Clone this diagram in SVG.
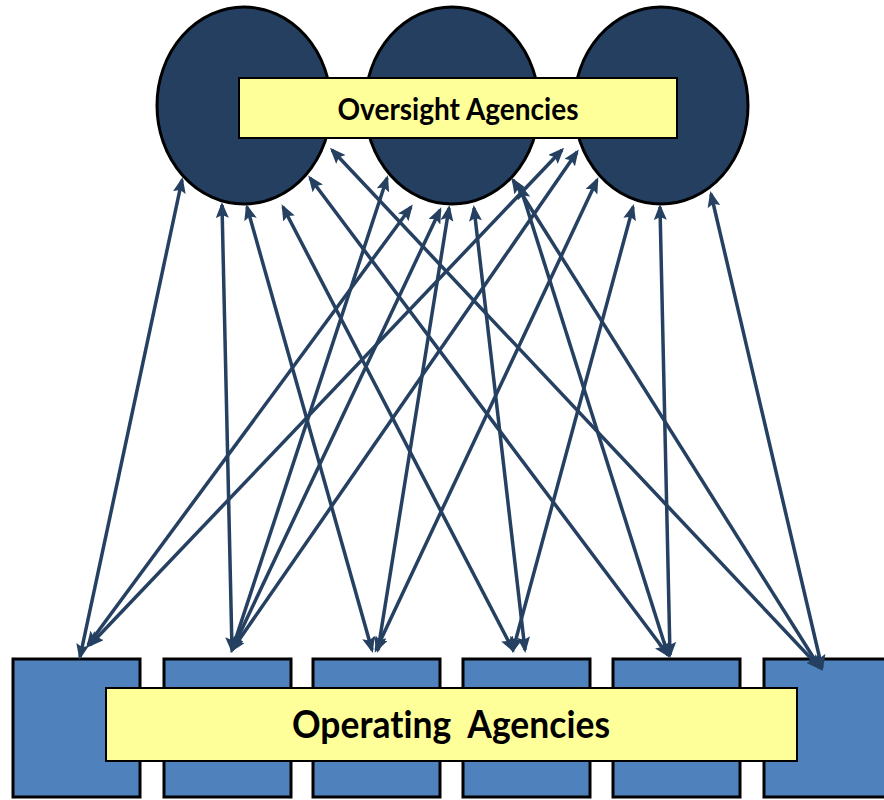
<svg xmlns="http://www.w3.org/2000/svg" width="884" height="800" viewBox="0 0 884 800">
<style>
.circ{fill:#243F60;stroke:#000;stroke-width:3}
.box{fill:#4F81BD;stroke:#000;stroke-width:3}
.lbl{fill:#FFFF99;stroke:#000;stroke-width:2}
.txt{font-family:Lato,"Open Sans","Liberation Sans",sans-serif;font-weight:bold;fill:#000;font-variant-ligatures:none}
.conn line{stroke:#254061;stroke-width:3.5;fill:none;marker-start:url(#ah);marker-end:url(#ah)}
</style>
<defs>
<marker id="ah" markerUnits="userSpaceOnUse" markerWidth="16" markerHeight="13" viewBox="0 0 16 13" refX="13" refY="6.5" orient="auto-start-reverse">
<path d="M0,0 L16,6.5 L0,13 L3,6.5 z" fill="#254061"/>
</marker>
</defs>
<rect width="884" height="800" fill="#fff"/>
<g id="oversight-1"><ellipse class="circ" cx="244" cy="105.5" rx="87" ry="98.5"/></g>
<g id="oversight-2"><ellipse class="circ" cx="452" cy="105.5" rx="87" ry="98.5"/></g>
<g id="oversight-3"><ellipse class="circ" cx="661" cy="105.5" rx="87" ry="98.5"/></g>
<g id="operating-1"><rect class="box" x="13" y="659" width="127" height="138"/></g>
<g id="operating-2"><rect class="box" x="164" y="659" width="127" height="138"/></g>
<g id="operating-3"><rect class="box" x="313" y="659" width="127" height="138"/></g>
<g id="operating-4"><rect class="box" x="463" y="659" width="127" height="138"/></g>
<g id="operating-5"><rect class="box" x="613" y="659" width="127" height="138"/></g>
<g id="operating-6"><rect class="box" x="764" y="659" width="127" height="138"/></g>
<g id="connectors" class="conn">
<line x1="182" y1="180" x2="80" y2="657"/>
<line x1="222" y1="205" x2="232" y2="650"/>
<line x1="247" y1="207" x2="372" y2="650"/>
<line x1="283" y1="207" x2="513" y2="650"/>
<line x1="310" y1="178" x2="668" y2="655"/>
<line x1="332" y1="150" x2="820" y2="668"/>
<line x1="387" y1="178" x2="232" y2="650"/>
<line x1="411" y1="207" x2="88" y2="645"/>
<line x1="440" y1="210" x2="232" y2="650"/>
<line x1="449" y1="208" x2="378" y2="650"/>
<line x1="474" y1="208" x2="525" y2="650"/>
<line x1="513" y1="180" x2="820" y2="668"/>
<line x1="520" y1="186" x2="668" y2="655"/>
<line x1="562" y1="150" x2="90" y2="645"/>
<line x1="577" y1="152" x2="232" y2="650"/>
<line x1="597" y1="180" x2="376" y2="650"/>
<line x1="633" y1="207" x2="513" y2="650"/>
<line x1="660" y1="207" x2="670" y2="655"/>
<line x1="711" y1="194" x2="822" y2="668"/>
</g>
<g id="oversight-label">
<rect class="lbl" x="239" y="78" width="438" height="60"/>
<text class="txt" x="458" y="120" font-size="30" text-anchor="middle" textLength="241" lengthAdjust="spacingAndGlyphs">Oversight Agencies</text>
</g>
<g id="operating-label">
<rect class="lbl" x="106" y="688" width="691" height="73"/>
<text class="txt" x="451" y="738" font-size="38" text-anchor="middle" textLength="318" lengthAdjust="spacingAndGlyphs" xml:space="preserve">Operating  Agencies</text>
</g>
</svg>
